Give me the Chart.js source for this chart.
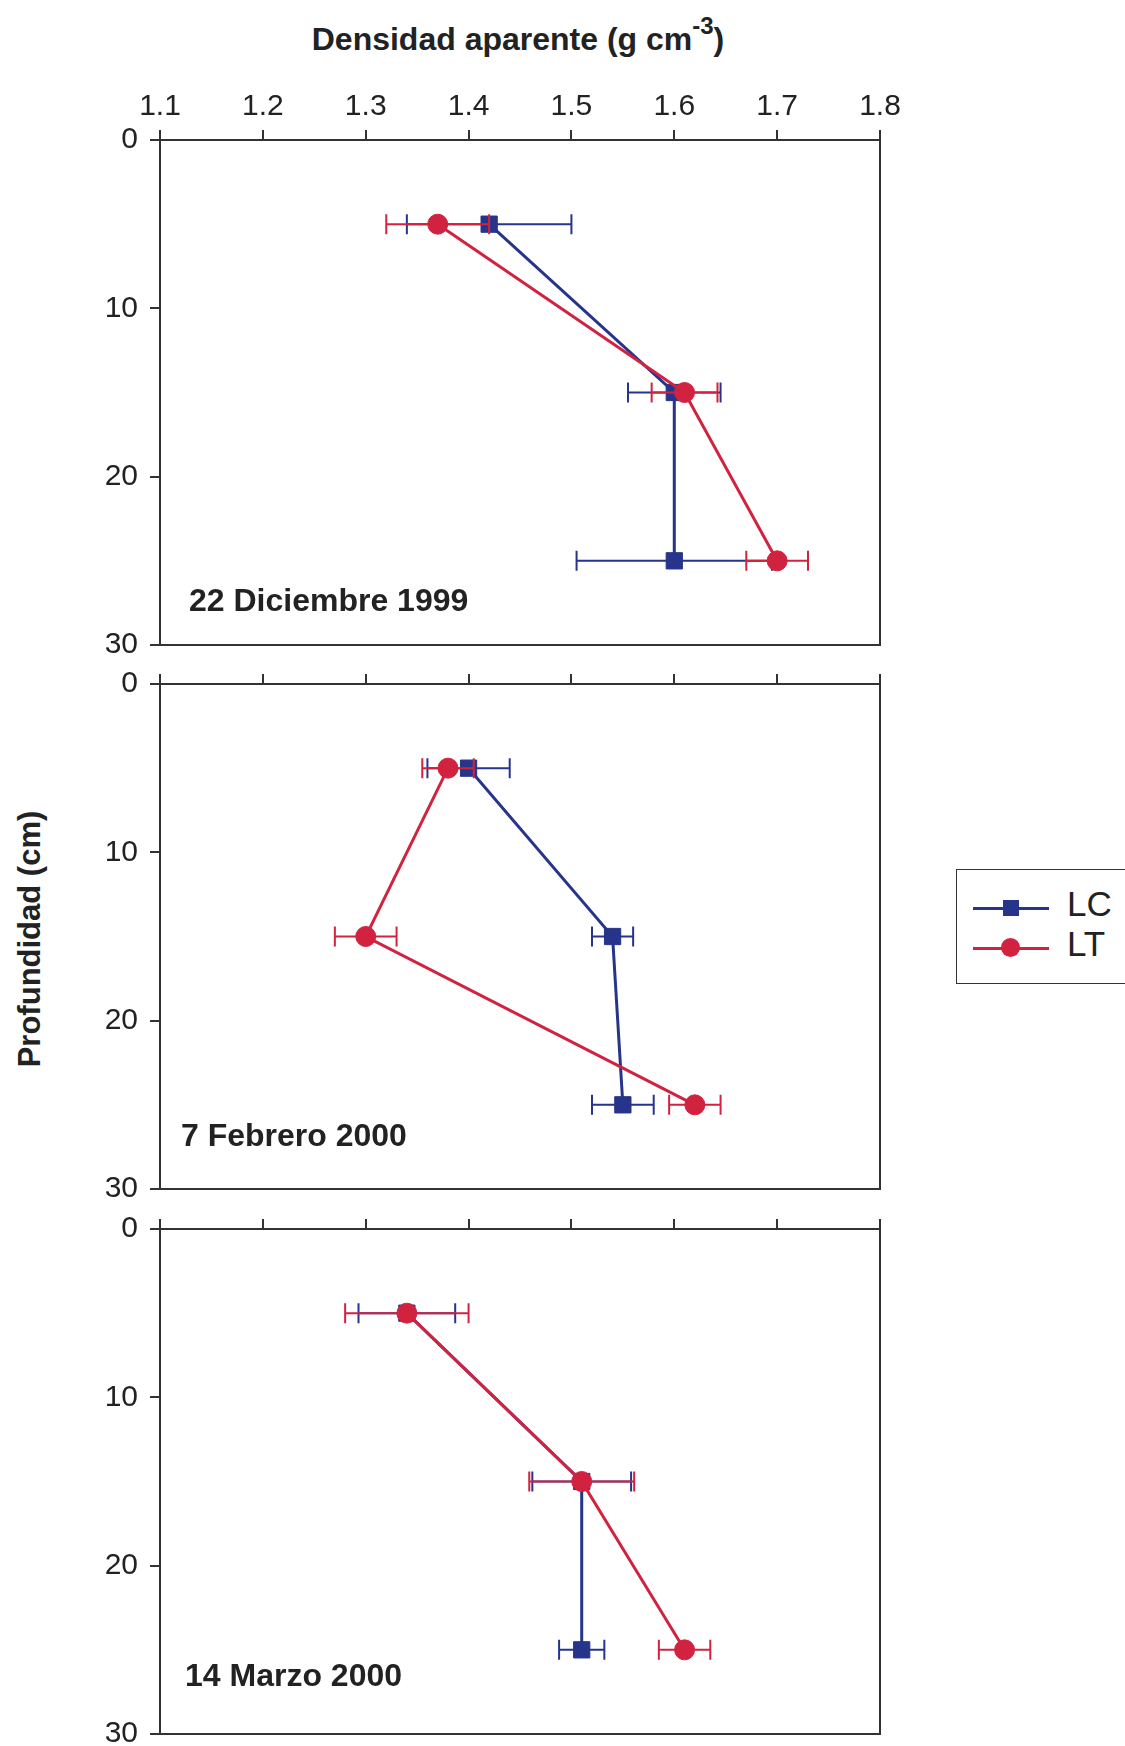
<!DOCTYPE html>
<html>
<head>
<meta charset="utf-8">
<script src="https://cdn.jsdelivr.net/npm/chart.js@4.4.1/dist/chart.umd.min.js"></script>
<style>
  body { margin: 0; background: #fff; font-family: "Liberation Sans", Arial, sans-serif; color: #222; }
  #lienzo { position: relative; width: 1125px; height: 1746px; overflow: hidden; background: #fff; }
  #lienzo canvas { position: absolute; left: 0; }
  .texto { position: absolute; font-weight: bold; white-space: nowrap; }
  #titulo { left: 0; width: 1036px; text-align: center; top: 16px; font-size: 32px; }
  #titulo sup { font-size: 24px; position: relative; top: -4px; }
  #ejeY { left: 30px; top: 939px; font-size: 31px; transform: translate(-50%, -50%) rotate(-90deg); }
  .fecha { font-size: 32px; }
  #leyenda { position: absolute; left: 956px; top: 869px; width: 168px; height: 113px; border: 1.5px solid #333; }
  .item { position: absolute; left: 16px; height: 36px; }
  .item .linea { position: absolute; left: 0; top: 17px; width: 76px; height: 2.5px; }
  .item .marca { position: absolute; }
  .item span { position: absolute; left: 94px; top: -6px; font-size: 35px; }
</style>
</head>
<body>
<div id="lienzo">
  <div id="titulo" class="texto">Densidad aparente (g cm<sup>-3</sup>)</div>
  <div id="ejeY" class="texto">Profundidad (cm)</div>
  <div id="leyenda"></div>
</div>
<script>
// profundidades de muestreo (cm)
const profundidad = [5, 15, 25];
const ticksX = ['1.1', '1.2', '1.3', '1.4', '1.5', '1.6', '1.7', '1.8'];
const ticksY = [0, 10, 20, 30];
const fechas = ['22 Diciembre 1999', '7 Febrero 2000', '14 Marzo 2000'];
const series = ['LC', 'LT'];

// densidad aparente y error, 22 diciembre 1999
const lcDic = [1.42, 1.60, 1.60];
const lcDicErr = [0.08, 0.045, 0.095];
const ltDic = [1.37, 1.61, 1.70];
const ltDicErr = [0.05, 0.032, 0.03];

// 7 febrero 2000
const lcFeb = [1.40, 1.54, 1.55];
const lcFebErr = [0.04, 0.02, 0.03];
const ltFeb = [1.38, 1.30, 1.62];
const ltFebErr = [0.025, 0.03, 0.025];

// 14 marzo 2000
const lcMar = [1.34, 1.51, 1.51];
const lcMarErr = [0.047, 0.048, 0.022];
const ltMar = [1.34, 1.51, 1.61];
const ltMarErr = [0.06, 0.051, 0.025];

const azul = '#27348b';
const rojo = '#d1233f';
const fuente = '"Liberation Sans", Arial, sans-serif';

// posicion de cada panel en la pagina
const topes = [140, 684, 1229];
const altoPanel = 505;
const posFecha = [[189, 582], [181, 1117], [185, 1657]];

const lienzo = document.getElementById('lienzo');

// marco alrededor del area del grafico
const marco = {
    id: 'marco',
    beforeDatasetsDraw(chart) {
        const { ctx, chartArea: a } = chart;
        ctx.save();
        ctx.strokeStyle = '#333';
        ctx.lineWidth = 2;
        ctx.strokeRect(a.left, a.top, a.right - a.left, a.bottom - a.top);
        ctx.restore();
    }
};

// barras de error horizontales
const barrasError = {
    id: 'barrasError',
    beforeDatasetDraw(chart, args) {
        const ds = chart.data.datasets[args.index];
        const { ctx, scales: { x, y } } = chart;
        ctx.save();
        ctx.strokeStyle = ds.borderColor;
        ctx.lineWidth = 2;
        ds.data.forEach((p, k) => {
            const e = ds.err[k];
            const x0 = x.getPixelForValue(p.x - e);
            const x1 = x.getPixelForValue(p.x + e);
            const yy = y.getPixelForValue(p.y);
            ctx.beginPath();
            ctx.moveTo(x0, yy); ctx.lineTo(x1, yy);
            ctx.moveTo(x0, yy - 10); ctx.lineTo(x0, yy + 10);
            ctx.moveTo(x1, yy - 10); ctx.lineTo(x1, yy + 10);
            ctx.stroke();
        });
        ctx.restore();
    }
};

function serie(valores, errores, color, estilo, radio, orden, nombre) {
    return {
        label: nombre,
        data: profundidad.map((p, k) => ({ x: valores[k], y: p })),
        err: errores,
        showLine: true,
        borderColor: color,
        backgroundColor: color,
        borderWidth: 3,
        pointStyle: estilo,
        pointRadius: radio,
        pointBorderWidth: 1,
        pointBorderColor: color,
        pointBackgroundColor: color,
        order: orden
    };
}

function crearPanel(i, lc, lcErr, lt, ltErr) {
    const canvas = document.createElement('canvas');
    canvas.width = 1000;
    canvas.height = 60 + altoPanel + 30;
    canvas.style.top = (topes[i] - 60) + 'px';
    lienzo.appendChild(canvas);

    const rejilla = { drawOnChartArea: false, drawTicks: true, tickLength: 10, color: '#333', lineWidth: 2 };

    new Chart(canvas, {
        type: 'scatter',
        data: {
            datasets: [
                serie(lc, lcErr, azul, 'rect', 11.5, 2, series[0]),
                serie(lt, ltErr, rojo, 'circle', 10, 1, series[1])
            ]
        },
        options: {
            responsive: false,
            animation: false,
            devicePixelRatio: 1,
            layout: { padding: { left: 0, right: 120, top: 0, bottom: 30 } },
            plugins: { legend: { display: false }, tooltip: { enabled: false } },
            scales: {
                x: {
                    type: 'linear', position: 'top', min: 1.1, max: 1.8,
                    afterBuildTicks: s => { s.ticks = ticksX.map(v => ({ value: parseFloat(v) })); },
                    ticks: {
                        display: i === 0,
                        callback: (v, k) => ticksX[k],
                        font: { size: 30, family: fuente },
                        color: '#222',
                        padding: 5
                    },
                    grid: rejilla,
                    border: { display: false },
                    afterFit: s => { s.height = 60; }
                },
                y: {
                    type: 'linear', reverse: true, min: 0, max: 30,
                    afterBuildTicks: s => { s.ticks = ticksY.map(v => ({ value: v })); },
                    ticks: {
                        callback: v => String(v),
                        font: { size: 30, family: fuente },
                        color: '#222',
                        padding: 12
                    },
                    grid: rejilla,
                    border: { display: false },
                    afterFit: s => { s.width = 160; }
                }
            }
        },
        plugins: [marco, barrasError]
    });

    const etiqueta = document.createElement('div');
    etiqueta.className = 'texto fecha';
    etiqueta.textContent = fechas[i];
    etiqueta.style.left = posFecha[i][0] + 'px';
    etiqueta.style.top = posFecha[i][1] + 'px';
    lienzo.appendChild(etiqueta);
}

crearPanel(0, lcDic, lcDicErr, ltDic, ltDicErr);
crearPanel(1, lcFeb, lcFebErr, ltFeb, ltFebErr);
crearPanel(2, lcMar, lcMarErr, ltMar, ltMarErr);

// leyenda
const leyenda = document.getElementById('leyenda');
const colores = [azul, rojo];
series.forEach((nombre, k) => {
    const item = document.createElement('div');
    item.className = 'item';
    item.style.top = (20 + k * 40) + 'px';
    item.style.width = '150px';
    const linea = document.createElement('div');
    linea.className = 'linea';
    linea.style.background = colores[k];
    const marca = document.createElement('div');
    marca.className = 'marca';
    marca.style.background = colores[k];
    if (k === 0) {
        marca.style.width = '16px'; marca.style.height = '16px';
        marca.style.left = '30px'; marca.style.top = '10px';
    } else {
        marca.style.width = '19px'; marca.style.height = '19px';
        marca.style.left = '28px'; marca.style.top = '8px';
        marca.style.borderRadius = '50%';
    }
    const texto = document.createElement('span');
    texto.textContent = nombre;
    item.appendChild(linea);
    item.appendChild(marca);
    item.appendChild(texto);
    leyenda.appendChild(item);
});
</script>
</body>
</html>
